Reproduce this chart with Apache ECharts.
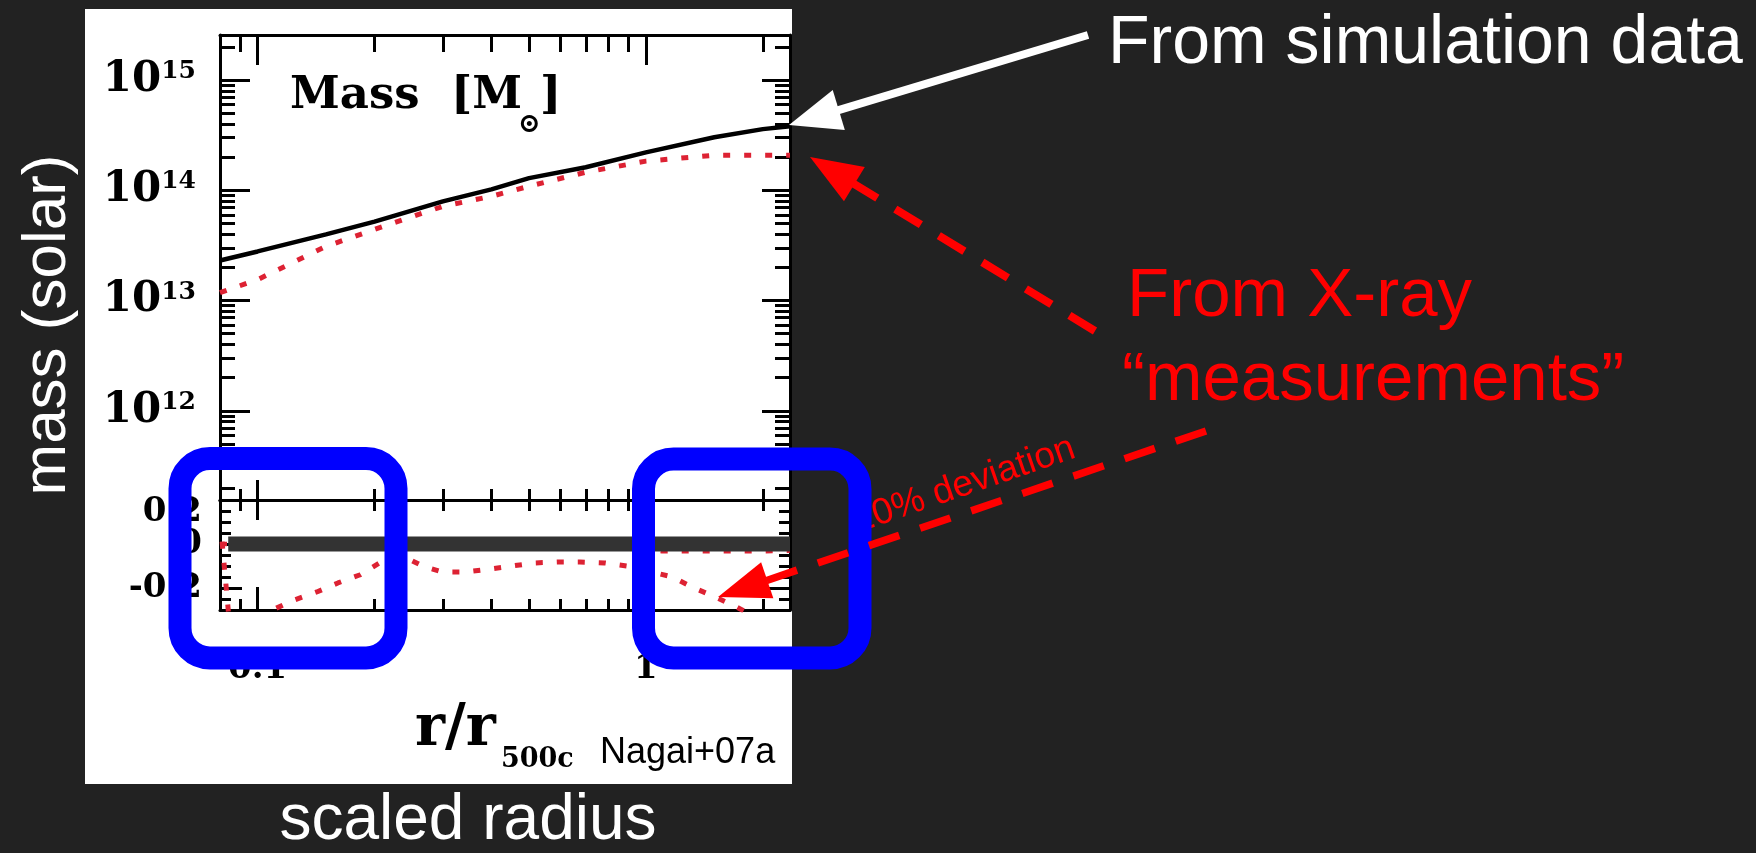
<!DOCTYPE html>
<html>
<head>
<meta charset="utf-8">
<script src="https://cdn.jsdelivr.net/npm/echarts@6/dist/echarts.min.js"></script>
<style>
html,body{margin:0;padding:0;background:#222222;}
#chart{width:1756px;height:853px;}
</style>
</head>
<body>
<div id="chart"></div>
<script>
// ---------- data ----------
// scaled radius r / r500c
const radius = [0.08, 0.1, 0.15, 0.2, 0.3, 0.4, 0.5, 0.7, 1.0, 1.5, 2.0, 2.35];
// mass from simulation data [Msun]
const massSimulation = [2.31e13, 2.79e13, 3.98e13, 5.2e13, 7.94e13, 1.02e14, 1.29e14, 1.62e14, 2.21e14, 3.03e14, 3.59e14, 3.82e14];
// mass from X-ray "measurements" [Msun]
const massXray = [1.18e13, 1.55e13, 3.1e13, 4.42e13, 7.16e13, 8.82e13, 1.09e14, 1.46e14, 1.84e14, 2.08e14, 2.08e14, 2.08e14];

// lower panel: fractional deviation of X-ray mass
const devRadius = [0.081, 0.086, 0.1, 0.109, 0.124, 0.142, 0.161, 0.183, 0.206, 0.242, 0.266, 0.299, 0.345, 0.396, 0.452, 0.518, 0.594, 0.676, 0.782, 0.893, 1.17, 1.33, 1.51, 1.71, 2.1];
const devXray = [0.01, -0.5, -0.5, -0.30, -0.255, -0.218, -0.177, -0.141, -0.086, -0.064, -0.10, -0.127, -0.127, -0.114, -0.10, -0.086, -0.082, -0.082, -0.086, -0.10, -0.15, -0.20, -0.241, -0.286, -0.37];
// second deviation curve, close to zero
const dev2Radius = [0.08, 0.3, 0.7, 1.0, 1.1, 1.5, 2.0, 2.35];
const dev2Xray = [0, 0, -0.01, -0.02, -0.033, -0.033, -0.033, -0.03];
// zero-deviation reference (simulation)
const zeroRadius = [0.084, 2.35];
const zeroDev = [0, 0];

// tick values
const radiusMajorTicks = [0.1, 1];
const radiusMinorTicks = [0.09, 0.2, 0.3, 0.4, 0.5, 0.6, 0.7, 0.8, 0.9, 2];
const radiusTickLabels = ['0.1', '1'];
const massMajorTicks = [1e12, 1e13, 1e14, 1e15];
const massMinorTicks = [];
for (let e = 11; e <= 15; e++) for (let k = 2; k <= 9; k++) massMinorTicks.push(k * Math.pow(10, e));
const devMajorTicks = [-0.2, 0, 0.2];
const devMinorTicks = [-0.3, -0.25, -0.15, -0.1, -0.05, 0.05, 0.1, 0.15];
const devTickLabels = ['-0.2', '0', '0.2'];

// ---------- chart ----------
const R_MIN = 0.08, R_MAX = 2.35;
const M_MIN = 1.552e11, M_MAX = 2.564e15;
const SERIF = "'DejaVu Serif', 'Liberation Serif', serif";
const SANS = "'Liberation Sans', Arial, Helvetica, sans-serif";
const RED_DOT = '#dd2233';

function xAx(grid, pos, ticks, len, opts) {
  return Object.assign({
    type: 'log', logBase: 10, gridIndex: grid, position: pos, min: R_MIN, max: R_MAX,
    axisLine: { show: true, onZero: false, lineStyle: { color: '#000', width: 3 } },
    axisTick: { show: true, inside: true, length: len, customValues: ticks, lineStyle: { color: '#000', width: 3 } },
    axisLabel: { show: false },
    splitLine: { show: false }, minorTick: { show: false }, minorSplitLine: { show: false }
  }, opts || {});
}
function yLog(pos, ticks, len, opts) {
  return Object.assign({
    type: 'log', logBase: 10, gridIndex: 0, position: pos, min: M_MIN, max: M_MAX,
    axisLine: { show: true, onZero: false, lineStyle: { color: '#000', width: 3 } },
    axisTick: { show: true, inside: true, length: len, customValues: ticks, lineStyle: { color: '#000', width: 3 } },
    axisLabel: { show: false },
    splitLine: { show: false }
  }, opts || {});
}
function yDev(pos, ticks, len, opts) {
  return Object.assign({
    type: 'value', gridIndex: 1, position: pos, min: -0.3, max: 0.2,
    axisLine: { show: true, onZero: false, lineStyle: { color: '#000', width: 3 } },
    axisTick: { show: true, inside: true, length: len, customValues: ticks, lineStyle: { color: '#000', width: 3 } },
    axisLabel: { show: false },
    splitLine: { show: false }
  }, opts || {});
}

const pairs = (xs, ys) => xs.map((x, i) => [x, ys[i]]);
const devLabel = v => devTickLabels[devMajorTicks.findIndex(t => Math.abs(t - v) < 1e-6)];

function arrow(x0, y0, x1, y1, color, width, dash, headLen, headHalf, z) {
  const dx = x1 - x0, dy = y1 - y0, L = Math.hypot(dx, dy);
  const ux = dx / L, uy = dy / L, nx = -uy, ny = ux;
  const bx = x1 - ux * headLen, by = y1 - uy * headLen;
  return [
    { type: 'line', z: z, shape: { x1: x0, y1: y0, x2: bx + ux * 2, y2: by + uy * 2 },
      style: { stroke: color, lineWidth: width, lineDash: dash || null } },
    { type: 'polygon', z: z, shape: { points: [[x1, y1], [bx + nx * headHalf, by + ny * headHalf], [bx - nx * headHalf, by - ny * headHalf]] },
      style: { fill: color } }
  ];
}

const DEV_ANGLE = 19 * Math.PI / 180;
const devLabelStyle = { fontFamily: SERIF, fontWeight: 'bold', fontSize: 34, color: '#000' };

const chart = echarts.init(document.getElementById('chart'), null, { renderer: 'canvas' });
const option = {
  animation: false,
  backgroundColor: '#222222',
  grid: [
    { left: 220, top: 35, width: 570, height: 465 },
    { left: 220, top: 500, width: 570, height: 110 }
  ],
  xAxis: [
    xAx(0, 'bottom', radiusMajorTicks, 20),
    xAx(0, 'bottom', radiusMinorTicks, 11, { axisLine: { show: false, onZero: false } }),
    xAx(0, 'top', radiusMajorTicks, 30),
    xAx(0, 'top', radiusMinorTicks, 17, { axisLine: { show: false, onZero: false } }),
    xAx(1, 'top', radiusMajorTicks, 20),
    xAx(1, 'top', radiusMinorTicks, 11, { axisLine: { show: false, onZero: false } }),
    xAx(1, 'bottom', radiusMajorTicks, 23, {
      axisLabel: {
        show: true, customValues: radiusMajorTicks, margin: 42, color: '#000',
        fontFamily: SERIF, fontWeight: 'bold', fontSize: 34, hideOverlap: false,
        formatter: v => radiusTickLabels[radiusMajorTicks.findIndex(t => Math.abs(Math.log10(t) - Math.log10(v)) < 1e-6)]
      }
    }),
    xAx(1, 'bottom', radiusMinorTicks, 11, { axisLine: { show: false, onZero: false } })
  ],
  yAxis: [
    yLog('left', massMajorTicks, 30, {
      axisLabel: {
        show: true, customValues: massMajorTicks, margin: 24, hideOverlap: false,
        formatter: v => '{a|10}{b|' + Math.round(Math.log10(v)) + '}',
        rich: {
          a: { fontFamily: SERIF, fontWeight: 'bold', fontSize: 42, color: '#000' },
          b: { fontFamily: SERIF, fontWeight: 'bold', fontSize: 25, color: '#000', verticalAlign: 'top' }
        }
      }
    }),
    yLog('left', massMinorTicks, 15, { axisLine: { show: false, onZero: false } }),
    yLog('right', massMajorTicks, 28),
    yLog('right', massMinorTicks, 15, { axisLine: { show: false, onZero: false } }),
    // lower panel left axis: labels "-0.2" and "0"
    yDev('left', devMajorTicks, 22, {
      axisLabel: Object.assign({
        show: true, customValues: devMajorTicks.filter(v => v < 0.1), margin: 18, hideOverlap: false,
        formatter: devLabel
      }, devLabelStyle)
    }),
    // lower panel left minor ticks + the top label "0.2" (nudged down below the frame corner)
    yDev('left', devMinorTicks, 11, {
      axisLine: { show: false, onZero: false },
      axisLabel: {
        show: true, customValues: devMajorTicks.filter(v => v > 0.1), margin: 18, hideOverlap: false,
        formatter: v => '{t|' + devLabel(v) + '}',
        rich: { t: Object.assign({}, devLabelStyle, { padding: [24, 0, 0, 0] }) }
      }
    }),
    yDev('right', devMajorTicks, 22),
    yDev('right', devMinorTicks, 11, { axisLine: { show: false, onZero: false } })
  ],
  series: [
    { name: 'From simulation data', type: 'line', xAxisIndex: 0, yAxisIndex: 0, data: pairs(radius, massSimulation),
      showSymbol: false, lineStyle: { color: '#000', width: 4.5 }, z: 3 },
    { name: 'From X-ray measurements', type: 'line', xAxisIndex: 0, yAxisIndex: 0, data: pairs(radius, massXray),
      showSymbol: false, lineStyle: { color: RED_DOT, width: 5, type: [7, 14], cap: 'butt' }, z: 2 },
    { name: 'deviation 2', type: 'line', xAxisIndex: 6, yAxisIndex: 4, data: pairs(dev2Radius, dev2Xray),
      showSymbol: false, lineStyle: { color: RED_DOT, width: 4.5, type: [7, 14], cap: 'butt' }, z: 2 },
    { name: 'deviation', type: 'line', xAxisIndex: 6, yAxisIndex: 4, data: pairs(devRadius, devXray),
      showSymbol: false, lineStyle: { color: RED_DOT, width: 5, type: [7, 14], cap: 'butt' }, z: 2 },
    { name: 'zero', type: 'line', xAxisIndex: 6, yAxisIndex: 4, data: pairs(zeroRadius, zeroDev),
      showSymbol: false, lineStyle: { color: '#333333', width: 15, cap: 'butt' }, z: 4 }
  ],
  graphic: [
    { type: 'rect', z: -1, shape: { x: 85, y: 9, width: 707, height: 775 }, style: { fill: '#ffffff' } },
    // panel texts
    { type: 'text', z: 10, x: 290, y: 96, style: { text: 'Mass  [M', font: 'bold 45px ' + SERIF, fill: '#000', verticalAlign: 'middle' } },
    { type: 'text', z: 10, x: 518, y: 125, style: { text: '⊙', font: 'bold 27px ' + SERIF, fill: '#000', verticalAlign: 'middle' } },
    { type: 'text', z: 10, x: 540, y: 96, style: { text: ']', font: 'bold 45px ' + SERIF, fill: '#000', verticalAlign: 'middle' } },
    { type: 'text', z: 10, x: 415, y: 730, style: { text: 'r/r', font: 'bold 57px ' + SERIF, fill: '#000', verticalAlign: 'middle' } },
    { type: 'text', z: 10, x: 501, y: 760, style: { text: '500c', font: 'bold 27px ' + SERIF, fill: '#000', verticalAlign: 'middle' } },
    { type: 'text', z: 10, x: 600, y: 753, style: { text: 'Nagai+07a', font: '36px ' + SANS, fill: '#000', verticalAlign: 'middle' } },
    // slide texts
    { type: 'text', z: 10, x: 48, y: 325, rotation: Math.PI / 2, style: { text: 'mass (solar)', font: '62px ' + SANS, fill: '#fff', align: 'center', verticalAlign: 'middle' } },
    { type: 'text', z: 10, x: 468, y: 821, style: { text: 'scaled radius', font: '64px ' + SANS, fill: '#fff', align: 'center', verticalAlign: 'middle' } },
    { type: 'text', z: 10, x: 1108, y: 44, style: { text: 'From simulation data', font: '68px ' + SANS, fill: '#fff', verticalAlign: 'middle' } },
    { type: 'text', z: 10, x: 1127, y: 297, style: { text: 'From X-ray', font: '69px ' + SANS, fill: '#ff0000', verticalAlign: 'middle' } },
    { type: 'text', z: 10, x: 1122, y: 381, style: { text: '“measurements”', font: '69px ' + SANS, fill: '#ff0000', verticalAlign: 'middle' } },
    { type: 'text', z: 40, x: 854, y: 523, rotation: DEV_ANGLE, style: { text: '20% deviation', font: '37px ' + SANS, fill: '#ff0000', verticalAlign: 'middle' } },
    // highlight boxes
    { type: 'rect', z: 50, shape: { x: 180, y: 458.5, width: 216, height: 199.5, r: 30 }, style: { fill: null, stroke: '#0000ff', lineWidth: 23 } },
    { type: 'rect', z: 50, shape: { x: 643.5, y: 459, width: 216.5, height: 199, r: 30 }, style: { fill: null, stroke: '#0000ff', lineWidth: 23 } }
  ].concat(
    arrow(1088, 35, 789, 125, '#ffffff', 8, null, 52, 21, 60),
    arrow(1095, 331, 810, 157, '#ff0000', 8, [30, 21], 52, 20, 60),
    arrow(1206, 431, 718, 597, '#ff0000', 7.5, [32, 22], 52, 19, 60)
  )
};
chart.setOption(option);
</script>
</body>
</html>
